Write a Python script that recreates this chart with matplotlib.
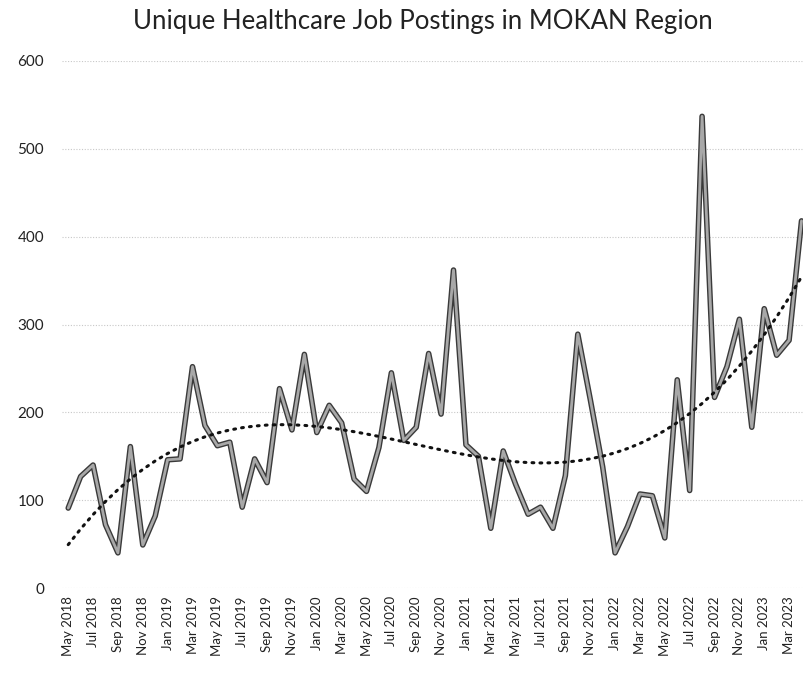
import numpy as np
import matplotlib
matplotlib.use("Agg")
import matplotlib.pyplot as plt
import matplotlib.patheffects as pe

months = ["Jan", "Feb", "Mar", "Apr", "May", "Jun", "Jul", "Aug", "Sep", "Oct", "Nov", "Dec"]
start_year = 2018
start_month = 4  # May (0-based)

postings = [91, 127, 140, 72, 40, 161, 49, 82, 146, 147, 252, 185,
            162, 166, 92, 147, 120, 227, 180, 266, 177, 208, 188, 124,
            110, 160, 245, 168, 183, 267, 198, 362, 163, 150, 68, 156,
            118, 84, 92, 68, 128, 289, 215, 138, 40, 70, 107, 105,
            57, 237, 111, 537, 217, 252, 306, 183, 318, 265, 282, 418]

n = len(postings)
labels = []
for k in range(n):
    m = (start_month + k) % 12
    y = start_year + (start_month + k) // 12
    labels.append(f"{months[m]} {y}")

x = np.arange(n)
vals = np.array(postings, dtype=float)
coef = np.polyfit(x, vals, 3)
trend = np.polyval(coef, x)

plt.rcParams['font.family'] = ['Lato', 'DejaVu Sans']

fig = plt.figure(figsize=(8.04, 6.77), dpi=100)
ax = fig.add_axes([62/804, (677-588)/677, (804-62)/804, (588-61)/677])

ax.plot(x, vals, color='#a8a8a8', linewidth=2.0, solid_joinstyle='round',
        solid_capstyle='round', zorder=3,
        path_effects=[pe.Stroke(linewidth=4.0, foreground='#3a3a3a',
                                joinstyle='round', capstyle='round'), pe.Normal()])
ax.plot(x, trend, color='#111111', linewidth=2.2, linestyle=(0, (0.6, 2.0)),
        dash_capstyle='round', zorder=4)

ax.set_xlim(-0.5, 59.2)
ax.set_ylim(0, 600)
ax.set_yticks(range(0, 601, 100))
ax.set_xticks(x[::2])
ax.set_xticklabels(labels[::2], rotation=90, fontsize=9.5, color='#222222')
ax.tick_params(axis='y', labelsize=11, colors='#222222', length=0, pad=13)
ax.tick_params(axis='x', length=0, pad=6)
ax.grid(axis='y', color='#c8c8c8', linewidth=0.8, linestyle=(0, (1, 1.5)))
ax.set_axisbelow(True)
for s in ax.spines.values():
    s.set_visible(False)

fig.text(0.526, 1 - 22/677, "Unique Healthcare Job Postings in MOKAN Region",
         ha='center', va='center', fontsize=18.5, color='#222222')

fig.savefig("out.png", dpi=100)
